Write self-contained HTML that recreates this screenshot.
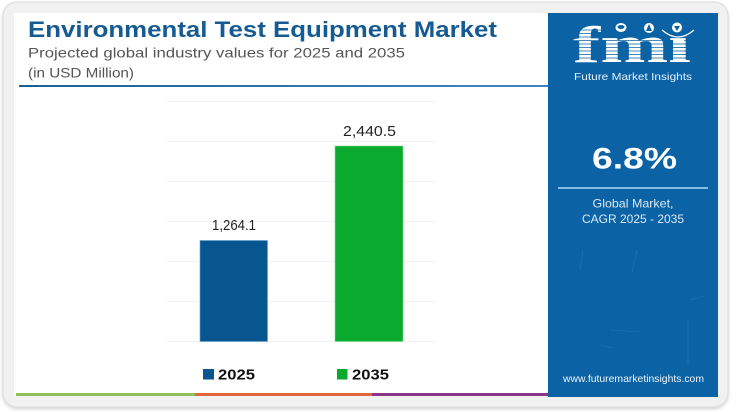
<!DOCTYPE html>
<html>
<head>
<meta charset="utf-8">
<style>
html,body{margin:0;padding:0;background:#ffffff;}
body{width:736px;height:412px;overflow:hidden;}
svg{display:block;}
</style>
</head>
<body>
<svg width="736" height="412" viewBox="0 0 736 412" xmlns="http://www.w3.org/2000/svg">
  <defs>
    <filter id="sh" x="-5%" y="-5%" width="110%" height="115%">
      <feDropShadow dx="0" dy="1.5" stdDeviation="1.5" flood-color="#000" flood-opacity="0.18"/>
    </filter>
    <linearGradient id="ul" x1="0" y1="0" x2="1" y2="0">
      <stop offset="0" stop-color="#1d5f94"/>
      <stop offset="1" stop-color="#3f86c2"/>
    </linearGradient>
  </defs>
  <!-- outer card -->
  <rect x="3" y="2" width="725" height="405" rx="14" ry="14" fill="#f1f1f1" stroke="#dcdcdc" stroke-width="1" filter="url(#sh)"/>
  <!-- inner white panel -->
  <rect x="14" y="13" width="534" height="383" fill="#ffffff"/>
  <!-- blue right panel -->
  <rect x="548" y="13" width="170" height="384" fill="#0b63a5"/>

  <!-- title -->
  <text x="28" y="37" font-family="Liberation Sans, sans-serif" font-weight="bold" font-size="22.5" fill="#155b92" textLength="469" lengthAdjust="spacingAndGlyphs">Environmental Test Equipment Market</text>
  <text x="28" y="57.5" font-family="Liberation Sans, sans-serif" font-size="14" fill="#555555" textLength="377" lengthAdjust="spacingAndGlyphs">Projected global industry values for 2025 and 2035</text>
  <text x="28" y="77.5" font-family="Liberation Sans, sans-serif" font-size="14" fill="#555555" textLength="106" lengthAdjust="spacingAndGlyphs">(in USD Million)</text>
  <rect x="19" y="85" width="529" height="2" fill="url(#ul)"/>

  <!-- grid -->
  <g stroke="#f2f2f2" stroke-width="1">
    <line x1="166" y1="101.5" x2="436" y2="101.5"/>
    <line x1="166" y1="141.5" x2="436" y2="141.5"/>
    <line x1="166" y1="181.5" x2="436" y2="181.5"/>
    <line x1="166" y1="221.5" x2="436" y2="221.5"/>
    <line x1="166" y1="261.5" x2="436" y2="261.5"/>
    <line x1="166" y1="301.5" x2="436" y2="301.5"/>
    <line x1="166" y1="341.5" x2="436" y2="341.5"/>
  </g>

  <!-- bars -->
  <rect x="200" y="240.5" width="67.5" height="101" fill="#07568f" stroke="#5fa0d4" stroke-width="0.6"/>
  <rect x="335" y="146" width="68" height="195.5" fill="#0aaa2e" stroke="#7be08f" stroke-width="0.6"/>

  <text x="234" y="230" text-anchor="middle" font-family="Liberation Sans, sans-serif" font-size="14.5" fill="#222" textLength="44" lengthAdjust="spacingAndGlyphs">1,264.1</text>
  <text x="369.5" y="136" text-anchor="middle" font-family="Liberation Sans, sans-serif" font-size="14.5" fill="#222" textLength="53" lengthAdjust="spacingAndGlyphs">2,440.5</text>

  <!-- legend -->
  <rect x="203" y="369" width="11" height="10.5" fill="#07568f"/>
  <text x="218" y="379.5" font-family="Liberation Sans, sans-serif" font-weight="bold" font-size="15" fill="#111" textLength="37" lengthAdjust="spacingAndGlyphs">2025</text>
  <rect x="337" y="369" width="10.5" height="10.5" fill="#0aaa2e"/>
  <text x="352" y="379.5" font-family="Liberation Sans, sans-serif" font-weight="bold" font-size="15" fill="#111" textLength="37" lengthAdjust="spacingAndGlyphs">2035</text>

  <!-- bottom colored bar -->
  <rect x="16" y="393" width="179" height="3" fill="#8dc05a"/>
  <rect x="195" y="393" width="177" height="3" fill="#e4663d"/>
  <rect x="372" y="393" width="176" height="3" fill="#8a3688"/>

  <!-- fmi logo -->
  <text x="573" y="62" font-family="Liberation Serif, serif" font-weight="bold" font-size="52" fill="#ffffff" textLength="118" lengthAdjust="spacingAndGlyphs">fmi</text>
  <g stroke="#0b63a5" stroke-width="0.8">
    <line x1="570" y1="30" x2="696" y2="30"/>
    <line x1="570" y1="33.5" x2="696" y2="33.5"/>
    <line x1="570" y1="37" x2="696" y2="37"/>
    <line x1="570" y1="40.5" x2="696" y2="40.5"/>
    <line x1="570" y1="44" x2="696" y2="44"/>
    <line x1="570" y1="47.5" x2="696" y2="47.5"/>
    <line x1="570" y1="51" x2="696" y2="51"/>
    <line x1="570" y1="54.5" x2="696" y2="54.5"/>
    <line x1="570" y1="58" x2="696" y2="58"/>
  </g>
  <rect x="660" y="22" width="36" height="15" fill="#0b63a5"/>
  <g fill="#ffffff">
    <ellipse cx="621" cy="27.5" rx="5.5" ry="4.5"/>
    <circle cx="649" cy="28" r="5"/>
    <circle cx="677" cy="27.5" r="5"/>
  </g>
  <g fill="#0b63a5">
    <ellipse cx="621" cy="27" rx="3.5" ry="2"/>
    <path d="M646 31 L649 24 L652 31 Z"/>
    <path d="M674 26 L680 26 L677 31 Z"/>
  </g>
  <path d="M662 30 Q678 44 694 30" fill="none" stroke="#ffffff" stroke-width="1.2"/>
  <rect x="673" y="39" width="11" height="22" fill="#ffffff"/>
  <g stroke="#0b63a5" stroke-width="0.8">
    <line x1="672" y1="44" x2="686" y2="44"/>
    <line x1="672" y1="47.5" x2="686" y2="47.5"/>
    <line x1="672" y1="51" x2="686" y2="51"/>
    <line x1="672" y1="54.5" x2="686" y2="54.5"/>
    <line x1="672" y1="58" x2="686" y2="58"/>
  </g>
  <text x="574" y="80" font-family="Liberation Sans, sans-serif" font-size="10.5" fill="#e6f0f9" textLength="118" lengthAdjust="spacingAndGlyphs">Future Market Insights</text>

  <!-- CAGR -->
  <text x="634.5" y="168.5" text-anchor="middle" font-family="Liberation Sans, sans-serif" font-weight="bold" font-size="29.5" fill="#ffffff" textLength="85" lengthAdjust="spacingAndGlyphs">6.8%</text>
  <rect x="558" y="187" width="150" height="2" fill="#86bbe6"/>
  <text x="633" y="207.5" text-anchor="middle" font-family="Liberation Sans, sans-serif" font-size="12" fill="#dbe8f4" textLength="81" lengthAdjust="spacingAndGlyphs">Global Market,</text>
  <text x="633" y="223" text-anchor="middle" font-family="Liberation Sans, sans-serif" font-size="12" fill="#dbe8f4" textLength="102" lengthAdjust="spacingAndGlyphs">CAGR 2025 - 2035</text>

  <!-- faint texture lines -->
  <g stroke="#3a86c2" stroke-width="0.6" opacity="0.5">
    <line x1="583" y1="250" x2="580" y2="270"/>
    <line x1="637" y1="250" x2="632" y2="272"/>
    <line x1="610" y1="330" x2="640" y2="332"/>
    <line x1="690" y1="300" x2="705" y2="296"/>
    <line x1="688" y1="320" x2="688" y2="365"/>
    <line x1="600" y1="345" x2="612" y2="348"/>
  </g>

  <text x="563" y="382" font-family="Liberation Sans, sans-serif" font-size="10.5" fill="#eef4fa" textLength="141" lengthAdjust="spacingAndGlyphs">www.futuremarketinsights.com</text>
</svg>
</body>
</html>
